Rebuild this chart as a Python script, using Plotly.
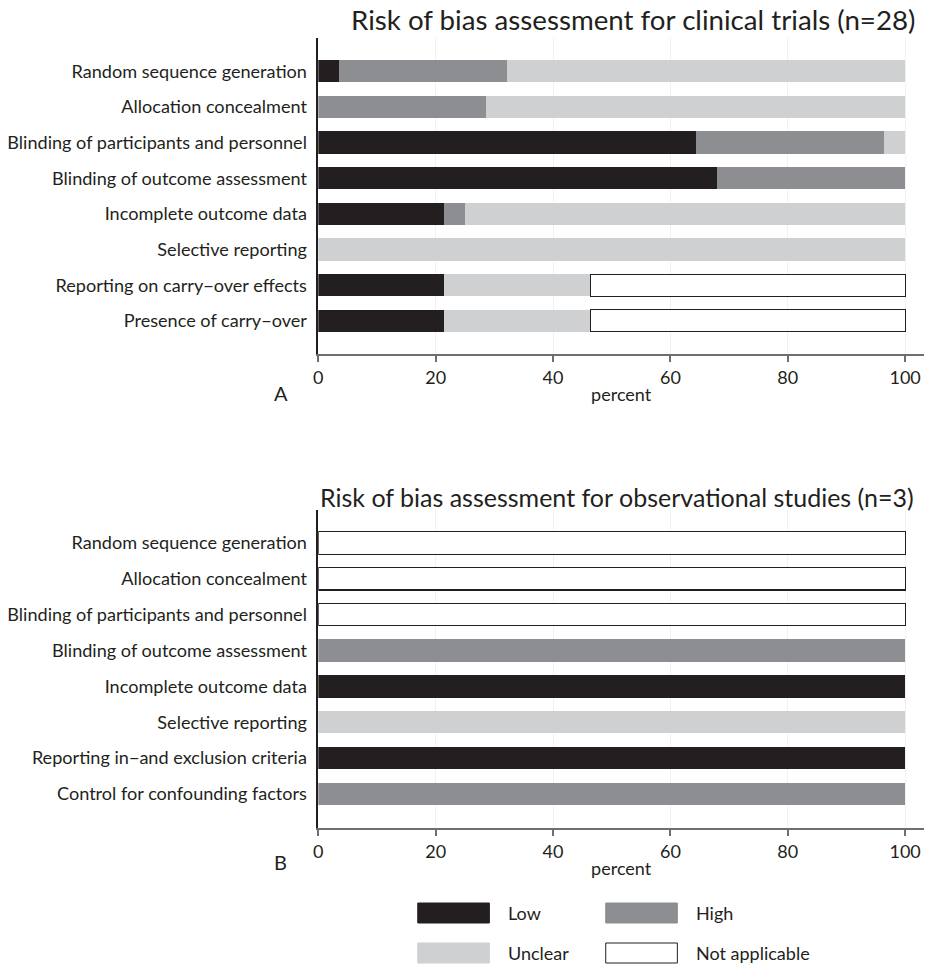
import plotly.graph_objects as go

# ---- data -------------------------------------------------------------
levels = ["Low", "High", "Unclear", "Not applicable"]

trial_n = 28
trial_items = [
    "Random sequence generation",
    "Allocation concealment",
    "Blinding of participants and personnel",
    "Blinding of outcome assessment",
    "Incomplete outcome data",
    "Selective reporting",
    "Reporting on carry\u2212over effects",
    "Presence of carry\u2212over",
]
trial_low = [1, 0, 18, 19, 6, 0, 6, 6]
trial_high = [8, 8, 9, 9, 1, 0, 0, 0]
trial_unclear = [19, 20, 1, 0, 21, 28, 7, 7]
trial_na = [0, 0, 0, 0, 0, 0, 15, 15]

obs_n = 3
obs_items = [
    "Random sequence generation",
    "Allocation concealment",
    "Blinding of participants and personnel",
    "Blinding of outcome assessment",
    "Incomplete outcome data",
    "Selective reporting",
    "Reporting in\u2212and exclusion criteria",
    "Control for confounding factors",
]
obs_low = [0, 0, 0, 0, 3, 0, 3, 0]
obs_high = [0, 0, 0, 3, 0, 0, 0, 3]
obs_unclear = [0, 0, 0, 0, 0, 3, 0, 0]
obs_na = [3, 3, 3, 0, 0, 0, 0, 0]

x_ticks = [0, 20, 40, 60, 80, 100]

# ---- styling ----------------------------------------------------------
FONT = "Lato"
TXT = "#231f20"
fills = {"Low": "#231f20", "High": "#8d8e91", "Unclear": "#cfd0d2", "Not applicable": "#ffffff"}
edges = {"Low": "rgba(0,0,0,0)", "High": "rgba(0,0,0,0)", "Unclear": "rgba(0,0,0,0)",
         "Not applicable": "#231f20"}

LABEL_SIZE = 18.1
TICK_SIZE = 18

W, H = 927, 964


def py(px):
    return 1 - px / H


def pxx(px):
    return px / W


fig = go.Figure()


def add_panel(items, n, series, xa, ya):
    for lvl, counts in zip(levels, series):
        # empty segments are left out so they leave no outline behind
        pct = [c / n * 100 if c else None for c in counts]
        fig.add_trace(go.Bar(
            y=items, x=pct, orientation="h", name=lvl,
            marker=dict(color=fills[lvl], line=dict(color=edges[lvl], width=1.2)),
            width=0.62, xaxis=xa, yaxis=ya, showlegend=False,
        ))


add_panel(trial_items, trial_n, [trial_low, trial_high, trial_unclear, trial_na], "x", "y")
add_panel(obs_items, obs_n, [obs_low, obs_high, obs_unclear, obs_na], "x2", "y2")

xdom = [pxx(315), pxx(924)]
xr = [0, 100 * (924 - 315) / (905 - 315)]

xcommon = dict(
    range=xr, domain=xdom, tickvals=x_ticks, ticks="outside", ticklen=6,
    tickcolor="#6d6e71", tickwidth=1.5, showline=True, linecolor="#6d6e71",
    linewidth=2, showgrid=True, gridcolor="#f1f1f2", gridwidth=1, zeroline=False,
    tickfont=dict(family=FONT, size=TICK_SIZE, color=TXT),
    title=dict(text="percent", font=dict(family=FONT, size=TICK_SIZE, color=TXT), standoff=2),
)
ycommon = dict(
    type="category", showline=True, linecolor=TXT, linewidth=1.5, ticks="",
    showgrid=False, zeroline=False, tickfont=dict(family=FONT, size=LABEL_SIZE, color=TXT),
    ticklabelstandoff=6,
)

fig.update_layout(
    width=W, height=H, margin=dict(l=0, r=0, t=0, b=0),
    paper_bgcolor="white", plot_bgcolor="white", barmode="stack", bargap=0.38,
    xaxis=dict(anchor="y", **xcommon),
    xaxis2=dict(anchor="y2", **xcommon),
    yaxis=dict(anchor="x", domain=[py(354), py(38)], range=[7.93, -0.93], **ycommon),
    yaxis2=dict(anchor="x2", domain=[py(828), py(510)], range=[7.95, -0.92], **ycommon),
    showlegend=False,
)

# panel titles and letters
ann = [
    dict(text="Risk of bias assessment for clinical trials (n=28)", x=pxx(917), y=py(19),
         xanchor="right", yanchor="middle", size=27.7),
    dict(text="Risk of bias assessment for observational studies (n=3)", x=pxx(916), y=py(497),
         xanchor="right", yanchor="middle", size=25),
    dict(text="A", x=pxx(277), y=py(393), xanchor="center", yanchor="middle", size=20),
    dict(text="B", x=pxx(277), y=py(862), xanchor="center", yanchor="middle", size=20),
]

# legend: swatches and labels
legend_pos = {
    "Low": (415, 903),
    "High": (604, 903),
    "Unclear": (415, 943),
    "Not applicable": (604, 943),
}
shapes = []
for lvl in levels:
    x0, y0 = legend_pos[lvl]
    shapes.append(dict(
        type="rect", xref="paper", yref="paper",
        x0=pxx(x0), x1=pxx(x0 + 72), y0=py(y0 + 20), y1=py(y0),
        fillcolor=fills[lvl],
        line=dict(color=edges[lvl] if lvl == "Not applicable" else fills[lvl], width=1),
    ))
    ann.append(dict(text=lvl, x=pxx(x0 + 89), y=py(y0 + 10), xanchor="left",
                    yanchor="middle", size=18))

fig.update_layout(
    shapes=shapes,
    annotations=[dict(text=a["text"], x=a["x"], y=a["y"], xref="paper", yref="paper",
                      xanchor=a["xanchor"], yanchor=a["yanchor"], showarrow=False,
                      font=dict(family=FONT, size=a["size"], color=TXT)) for a in ann],
)

fig.write_html("out.html")
